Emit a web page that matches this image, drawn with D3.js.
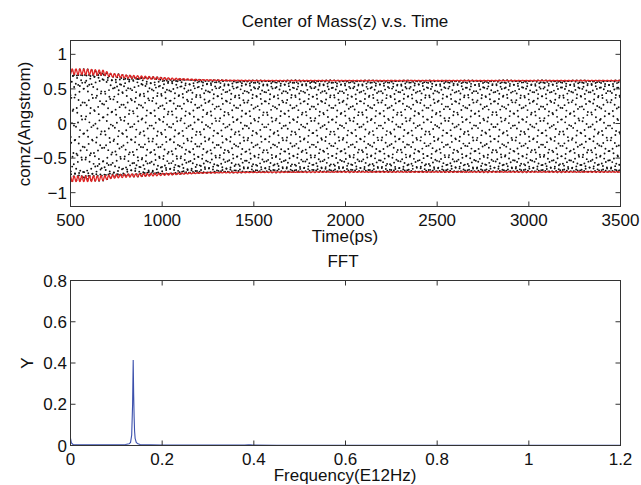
<!DOCTYPE html>
<html>
<head>
<meta charset="utf-8">
<script src="https://cdn.jsdelivr.net/npm/d3@7"></script>
<style>
  html, body { margin: 0; padding: 0; background: #fff; }
  svg { display: block; font-family: "Liberation Sans", Arial, sans-serif; }
</style>
</head>
<body>
<svg id="chart" width="641" height="485"></svg>
<script>
// ---------- data ----------
// Top panel: envelope of the centre-of-mass oscillation (Angstrom) at times (ps)
const envTime  = [500, 600, 680, 720, 800, 900, 1000, 1100, 1200, 1300, 1500, 2000, 3000, 3500];
const envUpper = [0.75, 0.745, 0.735, 0.70, 0.68, 0.665, 0.65, 0.64, 0.63, 0.625, 0.62, 0.62, 0.62, 0.62];
const envLower = [-0.80, -0.80, -0.79, -0.77, -0.755, -0.745, -0.735, -0.725, -0.715, -0.71, -0.705, -0.70, -0.70, -0.70];
// ripple on the red envelope curves (Angstrom), same times
const envRipple = [0.04, 0.04, 0.035, 0.025, 0.022, 0.02, 0.016, 0.01, 0.007, 0.005, 0.005, 0.005, 0.005, 0.005];
const ripplePeriod = 21;     // ps, spacing of the red ripples
const sampleStep = 1;        // ps between recorded frames
const timeStart = 500, timeEnd = 3500;

// Bottom panel: FFT spectrum
const fftFreq = [0, 0.002, 0.006, 0.02, 0.06, 0.1, 0.12, 0.128, 0.131, 0.1335, 0.1355, 0.1368, 0.1378, 0.1388, 0.1398, 0.141, 0.1435, 0.147, 0.152, 0.16, 0.175, 0.2, 0.3, 0.38, 0.388, 0.392, 0.398, 0.45, 0.6, 0.8, 1.0, 1.2];
const fftAmp  = [0.035, 0.012, 0.004, 0.003, 0.003, 0.004, 0.005, 0.008, 0.015, 0.05, 0.2, 0.414, 0.25, 0.14, 0.07, 0.035, 0.015, 0.008, 0.005, 0.004, 0.003, 0.002, 0.002, 0.002, 0.004, 0.004, 0.002, 0.001, 0.001, 0.001, 0.001, 0.001];
const peakFreq = fftFreq[fftAmp.indexOf(d3.max(fftAmp))]; // E12 Hz = 1/ps

// Tick labels
const topXTicks = [500, 1000, 1500, 2000, 2500, 3000, 3500];
const topYTicks = [-1, -0.5, 0, 0.5, 1];
const botXTicks = [0, 0.2, 0.4, 0.6, 0.8, 1, 1.2];
const botYTicks = [0, 0.2, 0.4, 0.6, 0.8];

// ---------- drawing ----------
const svg = d3.select("#chart");
const axisColor = "#333";
const fontSize = 17;
const fmt = v => (v < 0 ? "\u2212" : "") + String(Math.abs(v));

function panel(g, x, y, xTicks, yTicks) {
  const [x0, x1] = x.range(); const [y1, y0] = y.range();
  xTicks.forEach(t => {
    g.append("line").attr("x1", x(t)).attr("x2", x(t)).attr("y1", y1).attr("y2", y1 - 5).attr("stroke", axisColor);
    g.append("line").attr("x1", x(t)).attr("x2", x(t)).attr("y1", y0).attr("y2", y0 + 5).attr("stroke", axisColor);
  });
  yTicks.forEach(t => {
    g.append("line").attr("x1", x0).attr("x2", x0 + 5).attr("y1", y(t)).attr("y2", y(t)).attr("stroke", axisColor);
    g.append("line").attr("x1", x1).attr("x2", x1 - 5).attr("y1", y(t)).attr("y2", y(t)).attr("stroke", axisColor);
  });
  g.append("g").selectAll("text").data(xTicks).join("text")
    .attr("x", d => x(d)).attr("y", y1 + 19).attr("text-anchor", "middle")
    .attr("font-size", fontSize).attr("fill", "#111").text(fmt);
  g.append("g").selectAll("text").data(yTicks).join("text")
    .attr("x", x0 - 3.5).attr("y", d => y(d)).attr("dy", "0.36em").attr("text-anchor", "end")
    .attr("font-size", fontSize).attr("fill", "#111").text(fmt);
}
function frame(g, x, y) {
  const [x0, x1] = x.range(); const [y1, y0] = y.range();
  g.append("rect").attr("x", x0).attr("y", y0).attr("width", x1 - x0).attr("height", y1 - y0)
    .attr("fill", "none").attr("stroke", axisColor).attr("stroke-width", 1);
}

// ----- top panel -----
const xT = d3.scaleLinear().domain([timeStart, timeEnd]).range([70.5, 620.5]);
const yT = d3.scaleLinear().domain([-1.2, 1.2]).range([206.5, 40.5]);
const upper = d3.scaleLinear().domain(envTime).range(envUpper);
const lower = d3.scaleLinear().domain(envTime).range(envLower);
const ripple = d3.scaleLinear().domain(envTime).range(envRipple);

const times = d3.range(timeStart, timeEnd + 0.001, sampleStep);
const series = times.map(t => {
  const c = (upper(t) + lower(t)) / 2, a = (upper(t) - lower(t)) / 2;
  const r = ripple(t) * Math.sin(2 * Math.PI * t / ripplePeriod);
  return { t, z: c + (a + r) * Math.sin(2 * Math.PI * peakFreq * t), up: upper(t) + r, lo: lower(t) - r };
});

const gTop = svg.append("g");
gTop.append("defs").append("clipPath").attr("id", "clipTop").append("rect")
  .attr("x", 70.5).attr("y", 40.5).attr("width", 550).attr("height", 166);
const plotTop = gTop.append("g").attr("clip-path", "url(#clipTop)");
plotTop.append("g").selectAll("circle").data(series).join("circle")
  .attr("cx", d => xT(d.t)).attr("cy", d => yT(d.z)).attr("r", 0.95).attr("fill", "#111");
const lineUp = d3.line().x(d => xT(d.t)).y(d => yT(d.up));
const lineLo = d3.line().x(d => xT(d.t)).y(d => yT(d.lo));
plotTop.append("path").datum(series).attr("d", lineUp).attr("fill", "none").attr("stroke", "#e02424").attr("stroke-width", 1.3);
plotTop.append("path").datum(series).attr("d", lineLo).attr("fill", "none").attr("stroke", "#e02424").attr("stroke-width", 1.3);
panel(gTop, xT, yT, topXTicks, topYTicks);
frame(gTop, xT, yT);

svg.append("text").attr("x", 345).attr("y", 27).attr("text-anchor", "middle").attr("font-size", fontSize).attr("fill", "#111")
  .text("Center of Mass(z) v.s. Time");
svg.append("text").attr("x", 345).attr("y", 241.5).attr("text-anchor", "middle").attr("font-size", fontSize).attr("fill", "#111")
  .text("Time(ps)");
svg.append("text").attr("transform", "translate(30,124) rotate(-90)").attr("text-anchor", "middle").attr("font-size", fontSize).attr("fill", "#111")
  .text("comz(Angstrom)");

// ----- bottom panel -----
const xB = d3.scaleLinear().domain([0, 1.2]).range([70.5, 620.5]);
const yB = d3.scaleLinear().domain([0, 0.8]).range([445.5, 280.5]);
const gBot = svg.append("g");
const fftData = fftFreq.map((f, i) => ({ f, a: fftAmp[i] }));
gBot.append("path").datum(fftData)
  .attr("d", d3.line().x(d => xB(d.f)).y(d => yB(d.a)))
  .attr("fill", "none").attr("stroke", "#3b50ac").attr("stroke-width", 1.1);
panel(gBot, xB, yB, botXTicks, botYTicks);
frame(gBot, xB, yB);

svg.append("text").attr("x", 343).attr("y", 266.5).attr("text-anchor", "middle").attr("font-size", fontSize).attr("fill", "#111")
  .text("FFT");
svg.append("text").attr("x", 345).attr("y", 480.5).attr("text-anchor", "middle").attr("font-size", fontSize).attr("fill", "#111")
  .text("Frequency(E12Hz)");
svg.append("text").attr("transform", "translate(33,363) rotate(-90)").attr("text-anchor", "middle").attr("font-size", fontSize).attr("fill", "#111")
  .text("Y");
</script>
</body>
</html>
